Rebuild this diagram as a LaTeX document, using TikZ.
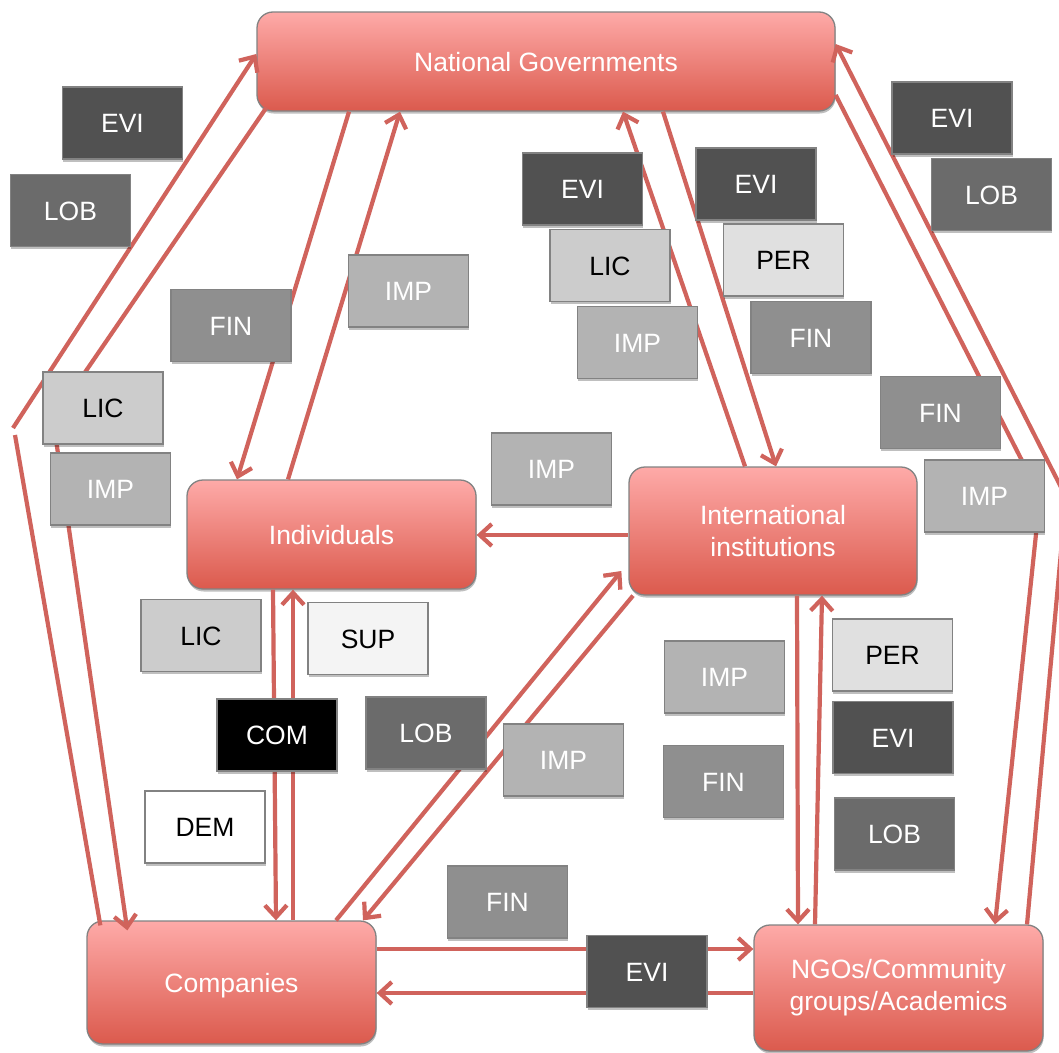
\documentclass[tikz,border=0pt]{standalone}
\usepackage{fontspec}
\setmainfont{Liberation Sans}
\usetikzlibrary{arrows.meta,shadows,calc}

\definecolor{linkc}{RGB}{208,99,92}
\definecolor{topc}{RGB}{254,170,168}
\definecolor{botc}{RGB}{219,90,77}
\definecolor{edgec}{RGB}{130,130,130}
\definecolor{evic}{RGB}{81,81,81}
\definecolor{lobc}{RGB}{107,107,107}
\definecolor{finc}{RGB}{143,143,143}
\definecolor{impc}{RGB}{179,179,179}
\definecolor{licc}{RGB}{204,204,204}
\definecolor{perc}{RGB}{224,224,224}
\definecolor{supc}{RGB}{244,244,244}

\tikzset{
  txt/.style={font=\fontsize{26.5}{32}\selectfont},
  softshadow/.style={drop shadow={shadow xshift=0.6pt, shadow yshift=-2.5pt, opacity=0.25, fill=black}},
  actor/.style={txt, softshadow, draw=edgec, line width=1.3pt, rounded corners=16pt,
    top color=topc, bottom color=botc, text=white, align=center, inner sep=0pt},
  oneline/.style={text height=19pt, text depth=0pt},
  lblbox/.style={txt, softshadow, draw=edgec, line width=1.3pt, oneline,
    minimum width=120pt, minimum height=72pt, inner sep=0pt},
  kEVI/.style={lblbox, fill=evic, text=white},
  kLOB/.style={lblbox, fill=lobc, text=white},
  kFIN/.style={lblbox, fill=finc, text=white},
  kIMP/.style={lblbox, fill=impc, text=white},
  kLIC/.style={lblbox, fill=licc, text=black},
  kPER/.style={lblbox, fill=perc, text=black},
  kSUP/.style={lblbox, fill=supc, text=black},
  kDEM/.style={lblbox, fill=white, text=black},
  kCOM/.style={lblbox, fill=black, text=white},
  link/.style={draw=linkc, line width=4.2pt, line join=round},
  arr/.style={link, -{Straight Barb[length=12pt,width=22pt]}},
}

\begin{document}
\begin{tikzpicture}[x=1pt,y=-1pt]
\path[use as bounding box, fill=white] (0,0) rectangle (1059,1052);

% actors
\node[actor, oneline, minimum width=578pt, minimum height=99pt] (ng) at (546,61.5) {National Governments};
\node[actor, oneline, minimum width=289pt, minimum height=109pt] (ind) at (331.5,534.5) {Individuals};
\node[actor, minimum width=288pt, minimum height=128pt] (intl) at (773,531) {International\\institutions};
\node[actor, oneline, minimum width=289pt, minimum height=123pt] (comp) at (231.5,982.5) {Companies};
\node[actor, minimum width=289pt, minimum height=126pt] (ngo) at (898.5,988) {NGOs/Community\\groups/Academics};

% governments <-> individuals
\draw[arr] (349,0 |- ng.south) -- (237,0 |- ind.north);
\draw[arr] (288,0 |- ind.north) -- (400,0 |- ng.south);
% governments <-> international institutions
\draw[arr] (663,0 |- ng.south) -- (776,0 |- intl.north);
\draw[arr] (745,0 |- intl.north) -- (623,0 |- ng.south);
% international institutions -> individuals
\draw[arr] (intl.west |- 0,535) -- (ind.east |- 0,535);
% individuals <-> companies
\draw[arr] (273,0 |- ind.south) -- (276,0 |- comp.north);
\draw[arr] (293,0 |- comp.north) -- (293,0 |- ind.south);
% companies <-> international institutions
\draw[arr] (336,0 |- comp.north) -- ($(intl.west)+(-7,40)$);
\draw[arr] (633,0 |- intl.south) -- (363,0 |- comp.north);
% international institutions <-> NGOs
\draw[arr] (797,0 |- intl.south) -- (798,0 |- ngo.north);
\draw[arr] (815,0 |- ngo.north) -- (822,0 |- intl.south);
% companies <-> NGOs
\draw[arr] (comp.east |- 0,949) -- (ngo.west |- 0,949);
\draw[arr] (ngo.west |- 0,993) -- (comp.east |- 0,993);
% right-hand loop: governments <-> NGOs (outer bend lies past the page edge)
\coordinate (rb1) at (1040,496);
\coordinate (rb2) at (1066,497);
\draw[arr] (ng.east |- 0,95) -- (rb1) -- (995,0 |- ngo.north);
\draw[arr] (1027,0 |- ngo.north) -- (rb2) -- (ng.east |- 0,44);
% left-hand loop: governments <-> companies
\coordinate (lb1) at (53,419);
\coordinate (lb2) at (15,435);
\coordinate (lb3) at (13,428);
\draw[arr] ($(ng.south west)+(10,-4)$) -- (lb1) -- ($(comp.north west)+(41,10)$);
\draw[link] ($(comp.north west)+(14,5)$) -- (lb2);
\draw[arr] (lb3) -- (ng.west |- 0,54);

% flow labels
\node[kEVI] (l1) at (122.5,123) {EVI};
\node[kLOB] (l2) at (70.5,210.5) {LOB};
\node[kFIN] (l3) at (231,325.5) {FIN};
\node[kLIC] (l4) at (103,408) {LIC};
\node[kIMP] (l5) at (110.5,489) {IMP};
\node[kIMP] (l6) at (408.5,291) {IMP};
\node[kEVI] (l7) at (582.5,189) {EVI};
\node[kLIC] (l8) at (610,265.5) {LIC};
\node[kIMP] (l9) at (637.5,342.5) {IMP};
\node[kEVI] (l10) at (756,184) {EVI};
\node[kPER] (l11) at (783.5,260) {PER};
\node[kFIN] (l12) at (811,337.5) {FIN};
\node[kEVI] (l13) at (952,118) {EVI};
\node[kLOB] (l14) at (991.5,194.5) {LOB};
\node[kFIN] (l15) at (940.5,412.5) {FIN};
\node[kIMP] (l16) at (984.5,496) {IMP};
\node[kIMP] (l17) at (551.5,469) {IMP};
\node[kLIC] (l18) at (201,635.5) {LIC};
\node[kSUP] (l19) at (368,638.5) {SUP};
\node[kCOM] (l20) at (277,735) {COM};
\node[kLOB] (l21) at (426,733) {LOB};
\node[kIMP] (l22) at (563.5,760) {IMP};
\node[kDEM] (l23) at (205,827) {DEM};
\node[kFIN] (l24) at (507.5,902) {FIN};
\node[kIMP] (l25) at (724.5,677) {IMP};
\node[kFIN] (l26) at (723.5,781.5) {FIN};
\node[kPER] (l27) at (892.5,655) {PER};
\node[kEVI] (l28) at (893,737.5) {EVI};
\node[kLOB] (l29) at (894.5,834) {LOB};
\node[kEVI] (l30) at (647,971.5) {EVI};
\end{tikzpicture}
\end{document}
